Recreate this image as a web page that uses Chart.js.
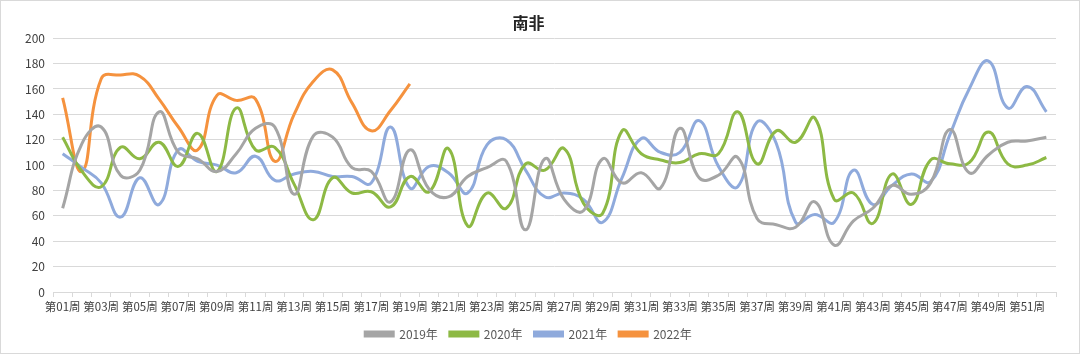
<!DOCTYPE html>
<html>
<head>
<meta charset="utf-8">
<script src="https://cdn.jsdelivr.net/npm/chart.js@4"></script>
<style>
html,body{margin:0;padding:0;background:#fff;}
#wrap{width:1080px;height:354px;box-sizing:border-box;border:1px solid #d9d9d9;position:relative;}
</style>
</head>
<body>
<div id="wrap"><canvas id="c"></canvas></div>
<script>
const weeks = [];
for (let i = 1; i <= 52; i++) weeks.push('第' + String(i).padStart(2, '0') + '周');

const title = '南非';
const seriesNames = ['2019年', '2020年', '2021年', '2022年'];

const y2019 = [66,117,130,92,96,142,110,105,95,109,129,130,77,123,122,98,95,71,112,81,75,91,98,103,49,105,73,64,105,86,94,82,129,90,92,106,58,53,51,71,37,56,66,84,77,86,128,94,108,118,119,122];
const y2020 = [122,95,83,114,105,118,99,125,95,145,112,114,85,57,90,78,79,67,91,79,113,52,78,66,101,96,113,70,62,127,109,104,102,109,109,142,101,127,118,137,73,78,54,93,69,104,101,102,126,101,100,106];
const y2021 = [109,98,86,59,90,69,112,103,100,94,107,88,93,95,91,91,86,130,82,99,94,78,116,120,96,75,78,73,55,90,121,110,110,135,99,83,134,117,55,61,55,96,69,84,93,87,124,160,182,145,162,142];
const y2022 = [153,95,168,171,170,152,130,112,155,151,152,103,140,166,175,149,127,143,164];

const colors = ['#A5A5A5', '#8DB944', '#8FAADC', '#F5923E'];
const values = [y2019, y2020, y2021, y2022];

const datasets = seriesNames.map((n, i) => ({
  label: n,
  data: values[i],
  borderColor: colors[i],
  backgroundColor: colors[i],
  borderWidth: 3,
  pointRadius: 0,
  pointHoverRadius: 0,
  tension: 0.45,
  fill: false
}));

Chart.defaults.font.family = "'Noto Sans CJK SC', 'Noto Sans', sans-serif";
Chart.defaults.color = '#595959';

new Chart(document.getElementById('c'), {
  type: 'line',
  data: { labels: weeks, datasets: datasets },
  options: {
    responsive: true,
    maintainAspectRatio: false,
    animation: false,
    layout: { padding: { left: 0, right: 23, top: 0, bottom: 3 } },
    plugins: {
      title: {
        display: true,
        text: title,
        color: '#262626',
        font: { size: 16, weight: 'bold' },
        padding: { top: 12, bottom: 6 }
      },
      legend: {
        position: 'bottom',
        labels: {
          boxWidth: 28,
          boxHeight: 4,
          padding: 12,
          color: '#595959',
          font: { size: 12 }
        }
      },
      tooltip: { enabled: false }
    },
    scales: {
      x: {
        offset: true,
        grid: { display: true, drawOnChartArea: false, drawTicks: true, tickLength: 5, offset: true, color: '#d9d9d9' },
        border: { display: true, color: '#d9d9d9', width: 1 },
        ticks: {
          autoSkip: false,
          maxRotation: 0,
          minRotation: 0,
          padding: 3,
          color: '#404040',
          font: { size: 11.5 },
          callback: function(v, i) { return i % 2 === 0 ? this.getLabelForValue(v) : ''; }
        },
        afterFit: function(s) { s.height = 24; }
      },
      y: {
        min: 0,
        max: 200,
        grid: { color: '#d9d9d9', drawTicks: false },
        border: { display: false },
        ticks: { stepSize: 20, padding: 8, color: '#404040', font: { size: 12 } },
        afterFit: function(s) { s.width = 52; }
      }
    }
  }
});
</script>
</body>
</html>
